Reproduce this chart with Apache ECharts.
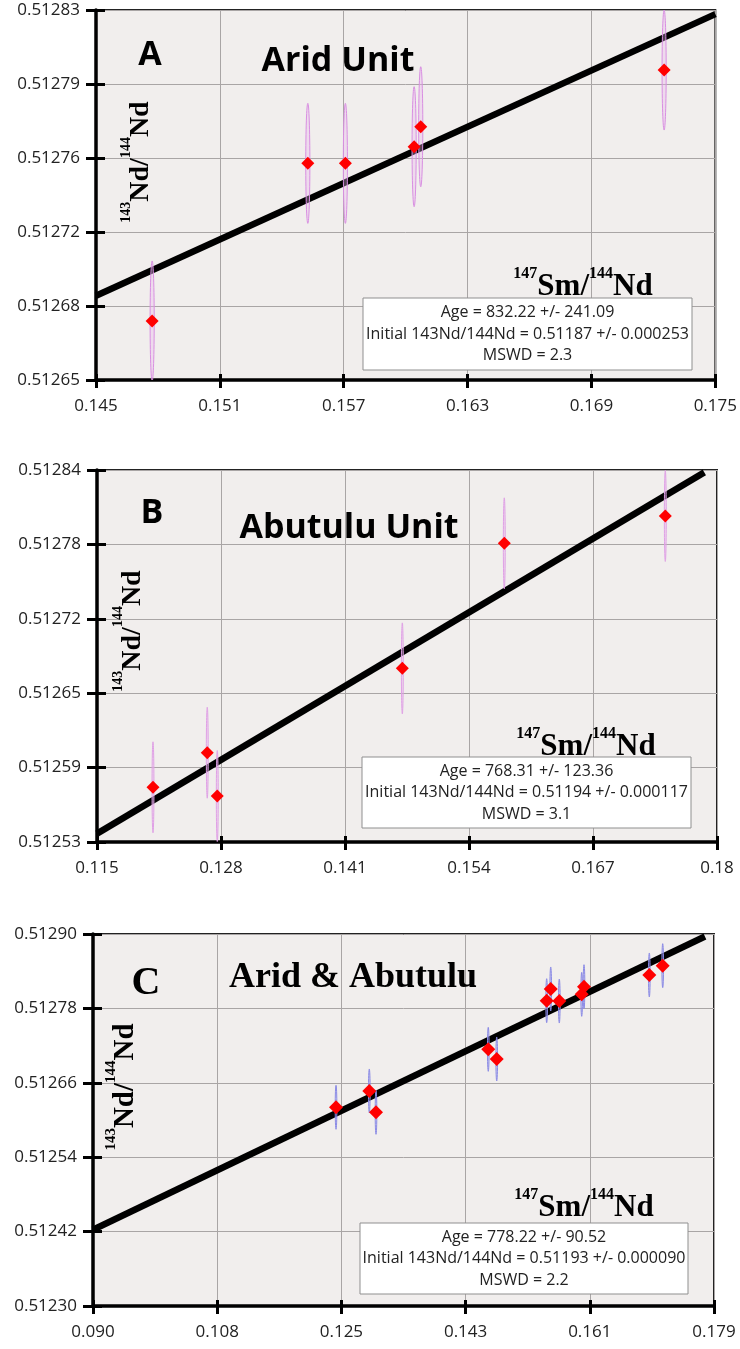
<!DOCTYPE html>
<html>
<head>
<meta charset="utf-8">
<title>Sm-Nd isochrons</title>
<script src="https://cdn.jsdelivr.net/npm/echarts@6/dist/echarts.min.js"></script>
<style>
  html, body { margin: 0; padding: 0; background: #ffffff; }
  #chart { width: 740px; height: 1349px; }
</style>
</head>
<body>
<div id="chart"></div>
<script>
// ---------- Panel A: Arid Unit ----------
const smA    = [0.14772, 0.15526, 0.15708, 0.16041, 0.16073, 0.17252];
const ndA    = [0.5126767, 0.5127534, 0.5127534, 0.5127615, 0.5127712, 0.5127988];
const smErrA = [0.0001, 0.0001, 0.0001, 0.0001, 0.0001, 0.0001];
const ndErrA = [0.0000292, 0.0000292, 0.0000292, 0.0000292, 0.0000292, 0.0000292];
const fitXA  = [0.145, 0.175];
const fitYA  = [0.512689, 0.512826];
const xRangeA = [0.145, 0.175];
const yRangeA = [0.512648, 0.512828];
const xTicksA = ['0.145', '0.151', '0.157', '0.163', '0.169', '0.175'];
const yTicksA = ['0.51265', '0.51268', '0.51272', '0.51276', '0.51279', '0.51283'];
const statsA  = ['Age = 832.22 +/- 241.09', 'Initial 143Nd/144Nd = 0.51187 +/- 0.000253', 'MSWD = 2.3'];

// ---------- Panel B: Abutulu Unit ----------
const smB    = [0.12087, 0.12656, 0.12761, 0.14701, 0.15770, 0.17458];
const ndB    = [0.5125756, 0.5126044, 0.5125683, 0.5126747, 0.5127789, 0.5128017];
const smErrB = [0.0001, 0.0001, 0.0001, 0.0001, 0.0001, 0.0001];
const ndErrB = [0.0000379, 0.0000379, 0.0000379, 0.0000379, 0.0000379, 0.0000379];
const fitXB  = [0.115, 0.17867];
const fitYB  = [0.512537, 0.512838];
const xRangeB = [0.115, 0.18];
const yRangeB = [0.51253, 0.51284];
const xTicksB = ['0.115', '0.128', '0.141', '0.154', '0.167', '0.18'];
const yTicksB = ['0.51253', '0.51259', '0.51265', '0.51272', '0.51278', '0.51284'];
const statsB  = ['Age = 768.31 +/- 123.36', 'Initial 143Nd/144Nd = 0.51194 +/- 0.000117', 'MSWD = 3.1'];

// ---------- Panel C: Arid & Abutulu ----------
const smC    = [0.12463, 0.12940, 0.13036, 0.14645, 0.14766, 0.15482, 0.15540, 0.15663, 0.15984, 0.16017, 0.16953, 0.17145];
const ndC    = [0.5126205, 0.5126468, 0.5126124, 0.5127140, 0.5126984, 0.5127924, 0.5128113, 0.5127919, 0.5128027, 0.5128150, 0.5128339, 0.5128489];
const smErrC = [0.00012, 0.00012, 0.00012, 0.00012, 0.00012, 0.00012, 0.00012, 0.00012, 0.00012, 0.00012, 0.00012, 0.00012];
const ndErrC = [0.0000355, 0.0000355, 0.0000355, 0.0000355, 0.0000355, 0.0000355, 0.0000355, 0.0000355, 0.0000355, 0.0000355, 0.0000355, 0.0000355];
const fitXC  = [0.0898, 0.1775];
const fitYC  = [0.512423, 0.512896];
const xRangeC = [0.0898, 0.1788];
const yRangeC = [0.5123, 0.5129];
const xTicksC = ['0.090', '0.108', '0.125', '0.143', '0.161', '0.179'];
const yTicksC = ['0.51230', '0.51242', '0.51254', '0.51266', '0.51278', '0.51290'];
const statsC  = ['Age = 778.22 +/- 90.52', 'Initial 143Nd/144Nd = 0.51193 +/- 0.000090', 'MSWD = 2.2'];

const SANS  = '"Open Sans", "Liberation Sans", sans-serif';
const SERIF = '"Liberation Serif", "DejaVu Serif", serif';

const panels = [
  {
    grid: { left: 96, top: 10, width: 621, height: 370 },
    sm: smA, nd: ndA, smErr: smErrA, ndErr: ndErrA, fitX: fitXA, fitY: fitYA,
    xRange: xRangeA, yRange: yRangeA, xTicks: xTicksA, yTicks: yTicksA,
    ellipseStroke: '#d98fe2', ellipseFill: 'rgba(232,180,238,0.35)', markSize: 13,
    letter: { text: 'A', x: 150, y: 55, font: SANS, size: 34 },
    title: { text: 'Arid Unit', x: 338, y: 61, font: SANS, size: 34 },
    yTitle: { x: 137, y: 162, big: 28, sup: 14 },
    xTitle: { x: 583, y: 284, big: 31, sup: 16 },
    box: { x: 363, y: 298, w: 329, h: 72 }, stats: statsA
  },
  {
    grid: { left: 97, top: 470, width: 620, height: 372 },
    sm: smB, nd: ndB, smErr: smErrB, ndErr: ndErrB, fitX: fitXB, fitY: fitYB,
    xRange: xRangeB, yRange: yRangeB, xTicks: xTicksB, yTicks: yTicksB,
    ellipseStroke: '#e0a0e6', ellipseFill: 'rgba(232,180,238,0.35)', markSize: 13,
    letter: { text: 'B', x: 152, y: 513, font: SANS, size: 34 },
    title: { text: 'Abutulu Unit', x: 349, y: 528, font: SANS, size: 34 },
    yTitle: { x: 129, y: 631, big: 28, sup: 14 },
    xTitle: { x: 586, y: 744, big: 31, sup: 16 },
    box: { x: 362, y: 757, w: 329, h: 71 }, stats: statsB
  },
  {
    grid: { left: 93, top: 934, width: 621, height: 372 },
    sm: smC, nd: ndC, smErr: smErrC, ndErr: ndErrC, fitX: fitXC, fitY: fitYC,
    xRange: xRangeC, yRange: yRangeC, xTicks: xTicksC, yTicks: yTicksC,
    ellipseStroke: '#8a8ae6', ellipseFill: 'rgba(140,140,232,0.3)', markSize: 14,
    letter: { text: 'C', x: 146, y: 984, font: SERIF, size: 40 },
    title: { text: 'Arid & Abutulu', x: 353, y: 978, font: SERIF, size: 36 },
    yTitle: { x: 122, y: 1087, big: 29, sup: 15 },
    xTitle: { x: 584, y: 1205, big: 31, sup: 16 },
    box: { x: 360, y: 1223, w: 328, h: 71 }, stats: statsC
  }
];

const grids = [], xAxes = [], yAxes = [], series = [], graphics = [];

const labelStyle = { color: '#222', fontFamily: SANS, fontSize: 17 };
const tickLine = { color: '#000', width: 3 };

panels.forEach((p, i) => {
  grids.push(Object.assign({
    show: true, backgroundColor: '#f1eeed', borderColor: '#222', borderWidth: 2, containLabel: false
  }, p.grid));

  // data axes (invisible) carry the real value scales
  xAxes.push({ type: 'value', gridIndex: i, show: false, min: p.xRange[0], max: p.xRange[1] });
  yAxes.push({ type: 'value', gridIndex: i, show: false, min: p.yRange[0], max: p.yRange[1] });

  // displayed axes: one tick position per label, ticks outside
  xAxes.push({
    type: 'value', gridIndex: i, position: 'bottom', min: 0, max: p.xTicks.length - 1, interval: 1,
    axisLine: { show: true, onZero: false, lineStyle: { color: '#000', width: 3.5 } },
    axisTick: { show: true, length: 8, lineStyle: tickLine },
    axisLabel: Object.assign({ margin: 18, formatter: v => p.xTicks[Math.round(v)] }, labelStyle),
    splitLine: { show: true, lineStyle: { color: '#a9a5a5', width: 1 } }
  });
  yAxes.push({
    type: 'value', gridIndex: i, position: 'left', min: 0, max: p.yTicks.length - 1, interval: 1,
    axisLine: { show: true, onZero: false, lineStyle: { color: '#000', width: 3.5 } },
    axisTick: { show: true, length: 10, lineStyle: tickLine },
    axisLabel: Object.assign({ margin: 16, formatter: v => p.yTicks[Math.round(v)] }, labelStyle),
    splitLine: { show: true, lineStyle: { color: '#a9a5a5', width: 1 } }
  });

  // inner half of the tick marks (ticks cross the axis line)
  xAxes.push({
    type: 'value', gridIndex: i, position: 'bottom', min: 0, max: p.xTicks.length - 1, interval: 1,
    axisLine: { show: false, onZero: false },
    axisTick: { show: true, inside: true, length: 6, lineStyle: tickLine },
    axisLabel: { show: false }, splitLine: { show: false }
  });
  yAxes.push({
    type: 'value', gridIndex: i, position: 'left', min: 0, max: p.yTicks.length - 1, interval: 1,
    axisLine: { show: false, onZero: false },
    axisTick: { show: true, inside: true, length: 9, lineStyle: tickLine },
    axisLabel: { show: false }, splitLine: { show: false }
  });

  const ax = 3 * i;

  // isochron regression line
  series.push({
    type: 'line', xAxisIndex: ax, yAxisIndex: ax, z: 3, silent: true, animation: false,
    symbol: 'none',
    data: p.fitX.map((x, k) => [x, p.fitY[k]]),
    lineStyle: { color: '#000', width: 6.5 }
  });

  // 2-sigma error ellipses
  series.push({
    type: 'custom', xAxisIndex: ax, yAxisIndex: ax, z: 4, silent: true, animation: false, clip: true,
    data: p.sm.map((x, k) => [x, p.nd[k], p.smErr[k], p.ndErr[k]]),
    encode: { x: 0, y: 1 },
    renderItem: (params, api) => {
      const c = api.coord([api.value(0), api.value(1)]);
      const s = api.size([api.value(2), api.value(3)]);
      return {
        type: 'ellipse',
        shape: { cx: c[0], cy: c[1], rx: Math.max(s[0], 0.8), ry: s[1] },
        style: { fill: p.ellipseFill, stroke: p.ellipseStroke, lineWidth: 1 }
      };
    }
  });

  // samples
  series.push({
    type: 'scatter', xAxisIndex: ax, yAxisIndex: ax, z: 5, silent: true, animation: false,
    symbol: 'diamond', symbolSize: p.markSize,
    data: p.sm.map((x, k) => [x, p.nd[k]]),
    itemStyle: { color: '#ff0000', opacity: 1 }
  });

  // panel letter and unit name
  graphics.push({
    type: 'text', x: p.letter.x, y: p.letter.y, z: 20,
    style: { text: p.letter.text, font: `bold ${p.letter.size}px ${p.letter.font}`, fill: '#000', align: 'center', verticalAlign: 'middle' }
  });
  graphics.push({
    type: 'text', x: p.title.x, y: p.title.y, z: 20,
    style: { text: p.title.text, font: `bold ${p.title.size}px ${p.title.font}`, fill: '#000', align: 'center', verticalAlign: 'middle' }
  });

  // axis titles with isotope mass numbers as superscripts
  const richFor = t => ({
    b: { fontFamily: SERIF, fontWeight: 'bold', fontSize: t.big, lineHeight: 36, fill: '#000', verticalAlign: 'bottom' },
    s: { fontFamily: SERIF, fontWeight: 'bold', fontSize: t.sup, lineHeight: t.sup + 2, fill: '#000', verticalAlign: 'top' }
  });
  graphics.push({
    type: 'text', x: p.yTitle.x, y: p.yTitle.y, rotation: Math.PI / 2, z: 20,
    style: { text: '{s|143}{b|Nd/}{s|144}{b|Nd}', rich: richFor(p.yTitle), align: 'center', verticalAlign: 'middle' }
  });
  graphics.push({
    type: 'text', x: p.xTitle.x, y: p.xTitle.y, z: 20,
    style: { text: '{s|147}{b|Sm/}{s|144}{b|Nd}', rich: richFor(p.xTitle), align: 'center', verticalAlign: 'middle' }
  });

  // results box
  graphics.push({
    type: 'rect', z: 20,
    shape: { x: p.box.x, y: p.box.y, width: p.box.w, height: p.box.h },
    style: { fill: '#ffffff', stroke: '#8f8f8f', lineWidth: 1 }
  });
  graphics.push({
    type: 'text', z: 21, x: p.box.x + p.box.w / 2, y: p.box.y + p.box.h / 2,
    style: {
      text: p.stats.join('\n'), font: `16px ${SANS}`, lineHeight: 21.5, fill: '#222',
      align: 'center', verticalAlign: 'middle'
    }
  });
});

const chart = echarts.init(document.getElementById('chart'), null, { renderer: 'canvas' });
chart.setOption({
  animation: false,
  backgroundColor: '#ffffff',
  grid: grids,
  xAxis: xAxes,
  yAxis: yAxes,
  series: series,
  graphic: { elements: graphics }
});
</script>
</body>
</html>
